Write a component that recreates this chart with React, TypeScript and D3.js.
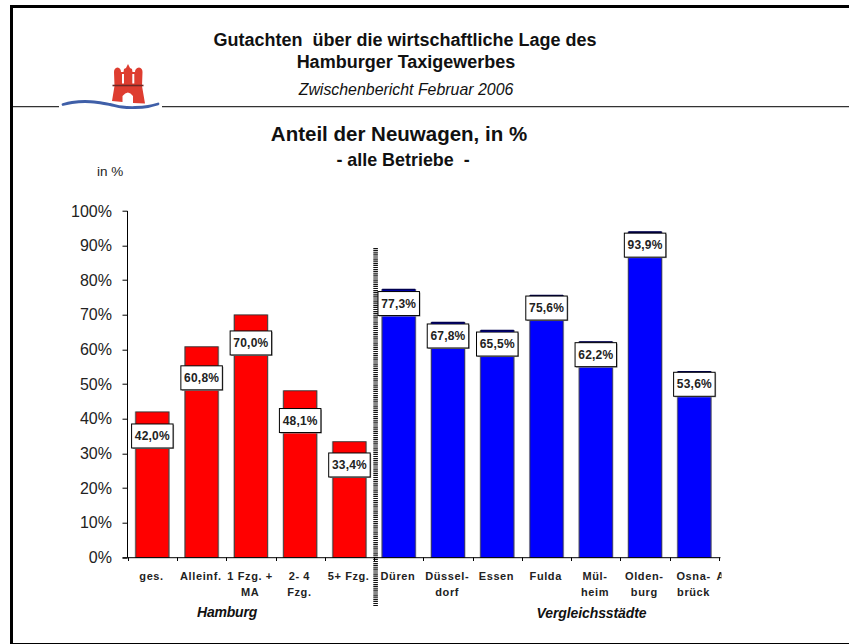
import React from "react";
import * as d3 from "d3";

const categories = [
  ["ges."], ["Alleinf."], ["1 Fzg. +", "MA"], ["2- 4", "Fzg."], ["5+ Fzg."],
  ["Düren"], ["Düssel-", "dorf"], ["Essen"], ["Fulda"], ["Mül-", "heim"], ["Olden-", "burg"], ["Osna-", "brück"],
];
const categoryKeys = categories.map((c) => c.join(" "));
const values = [42.0, 60.8, 70.0, 48.1, 33.4, 77.3, 67.8, 65.5, 75.6, 62.2, 93.9, 53.6];
const barGroups = ["h", "h", "h", "h", "h", "v", "v", "v", "v", "v", "v", "v"];
const yTicks = [0, 10, 20, 30, 40, 50, 60, 70, 80, 90, 100];
const labelOffsets = [24, 31, 28, 29.7, 23.2, 13.9, 13.4, 13.5, 12.5, 12.7, 13, 12.5];

const FONT = "'Liberation Sans', Arial, sans-serif";
const x = d3.scaleBand<string>().domain(categoryKeys).range([127.7, 719]).paddingInner(0.33).paddingOuter(0.165);
const y = d3.scaleLinear().domain([0, 100]).range([557.5, 211]);
const fmt = (v: number) => v.toFixed(1).replace(".", ",") + "%";

const riverPath = d3.line().curve(d3.curveCatmullRom)([
  [63, 104.5], [72, 102.5], [85, 101.5], [98, 102.5], [110, 104.5], [122, 107], [135, 107.5], [148, 106.5], [158, 104],
] as [number, number][]) as string;

export default function App() {
  const bw = x.bandwidth();
  const tickXs = [...categoryKeys.map((c) => (x(c) as number) - x.step() * 0.165), 719];
  return (
    <svg width={849} height={644} style={{ position: "absolute", left: 0, top: 0, background: "#fff" }} fontFamily={FONT}>
      <defs>
        <clipPath id="axisClip"><rect x={700} y={560} width={21.5} height={30} /></clipPath>
      </defs>
      {/* frame */}
      <rect x={10} y={5} width={839} height={3} fill="#000" />
      <rect x={10} y={5} width={3} height={639} fill="#000" />
      <rect x={10} y={643} width={839} height={1} fill="#000" />
      {/* header rule */}
      <line x1={13} x2={59} y1={106.7} y2={106.7} stroke="#333" strokeWidth={1.2} />
      <line x1={162} x2={849} y1={106.7} y2={106.7} stroke="#333" strokeWidth={1.2} />
      {/* logo */}
      <path
        fillRule="evenodd"
        d="M112,101 L114.5,86 L114,72 Q114,68 117.5,67.5 Q121,68 121,72 L123.5,72 L124,69 L126,68 L128,64 L130,68 L132,69 L132.5,72 L135,72 Q135,68 139,67.5 Q142.5,68 142.5,72 L142,86 L145,103.5 L133,103 L133,96 Q128,89 122.5,96 L122.5,102 Z M122,74 L122,83.5 L124,83.5 L124,74 Z M132.3,74 L132.3,83.5 L134.3,83.5 L134.3,74 Z"
        fill="#de3d30"
      />
      <line x1={112.5} x2={143.5} y1={85.5} y2={85.5} stroke="#6e2a26" strokeWidth={1.6} />
      <path d={riverPath} fill="none" stroke="#3f5fa8" strokeWidth={2.8} strokeLinecap="round" />
      {/* header text */}
      <g fill="#111" textAnchor="middle">
        <text x={405} y={46} fontSize={18} fontWeight="bold" xmlSpace="preserve">Gutachten  über die wirtschaftliche Lage des</text>
        <text x={406} y={68} fontSize={18} fontWeight="bold">Hamburger Taxigewerbes</text>
        <text x={406} y={95} fontSize={15.9} fontStyle="italic">Zwischenbericht Februar 2006</text>
        <text x={399} y={141} fontSize={20.5} fontWeight="bold">Anteil der Neuwagen, in %</text>
        <text x={403} y={166} fontSize={17.9} fontWeight="bold" xmlSpace="preserve">- alle Betriebe  -</text>
      </g>
      <text x={97} y={176} fontSize={13.5} fill="#222">in %</text>

      {/* bars */}
      {categoryKeys.map((c, i) => {
        const bx = x(c) as number;
        const top = y(values[i]);
        const blue = barGroups[i] === "v";
        return (
          <g key={c}>
            <rect x={bx - 0.6} y={top} width={bw + 1.2} height={y(0) - top} fill="none" stroke="#aaa" strokeWidth={1} />
            <rect x={bx} y={top} width={bw} height={y(0) - top} fill={blue ? "#0000ff" : "#ff0000"} stroke={blue ? "#222266" : "#333"} strokeWidth={0.8} />
            {blue && <line x1={bx} x2={bx + bw} y1={top} y2={top} stroke="#000050" strokeWidth={1.6} />}
          </g>
        );
      })}

      {/* separator */}
      <line x1={375.6} x2={375.6} y1={248} y2={606} stroke="#111" strokeWidth={4.6} strokeDasharray="1.2 0.9" />

      {/* axes */}
      <g stroke="#000" strokeWidth={1}>
        <line x1={127.5} x2={127.5} y1={y(100)} y2={y(0)} />
        <line x1={122.5} x2={720.5} y1={y(0) + 0.2} y2={y(0) + 0.2} />
        {yTicks.map((t) => (
          <line key={t} x1={122.5} x2={127.5} y1={Math.round(y(t)) + 0.2} y2={Math.round(y(t)) + 0.2} />
        ))}
        {tickXs.map((t, i) => (
          <line key={i} x1={Math.round(t) + 0.5} x2={Math.round(t) + 0.5} y1={y(0)} y2={y(0) + 3.5} />
        ))}
      </g>
      <g fontSize={16} fill="#222" textAnchor="end">
        {yTicks.map((t) => (
          <text key={t} x={112} y={y(t) + 5.5}>{t}%</text>
        ))}
      </g>

      {/* category labels */}
      <g fontSize={11} fontWeight="bold" fill="#222" textAnchor="middle" letterSpacing={0.6}>
        {categories.map((lines, i) => (
          <text key={i}>
            {lines.map((l, j) => (
              <tspan key={j} x={(x(categoryKeys[i]) as number) + bw / 2 - 0.8} y={580 + j * 16}>{l}</tspan>
            ))}
          </text>
        ))}
      </g>
      <text x={716.5} y={580} fontSize={11} fontWeight="bold" fill="#222" clipPath="url(#axisClip)">A</text>
      <text x={227} y={617} fontSize={14} fontWeight="bold" fontStyle="italic" fill="#111" textAnchor="middle" letterSpacing={-0.2}>Hamburg</text>
      <text x={591.5} y={618} fontSize={14} fontWeight="bold" fontStyle="italic" fill="#111" textAnchor="middle" letterSpacing={-0.1}>Vergleichsstädte</text>

      {/* value labels */}
      {categoryKeys.map((c, i) => {
        const cx = (x(c) as number) + bw / 2;
        const cy = y(values[i]) + labelOffsets[i];
        const w = 41.5;
        const h = 24;
        return (
          <g key={c}>
            <rect x={cx - w / 2 + 1} y={cy - h / 2 + 1} width={w} height={h} fill="#999" />
            <rect x={cx - w / 2} y={cy - h / 2} width={w} height={h} fill="#fff" stroke="#000" strokeWidth={1} />
            <text x={cx} y={cy + 4.2} fontSize={12} fontWeight="bold" fill="#222" textAnchor="middle" letterSpacing={0.2}>{fmt(values[i])}</text>
          </g>
        );
      })}
    </svg>
  );
}
